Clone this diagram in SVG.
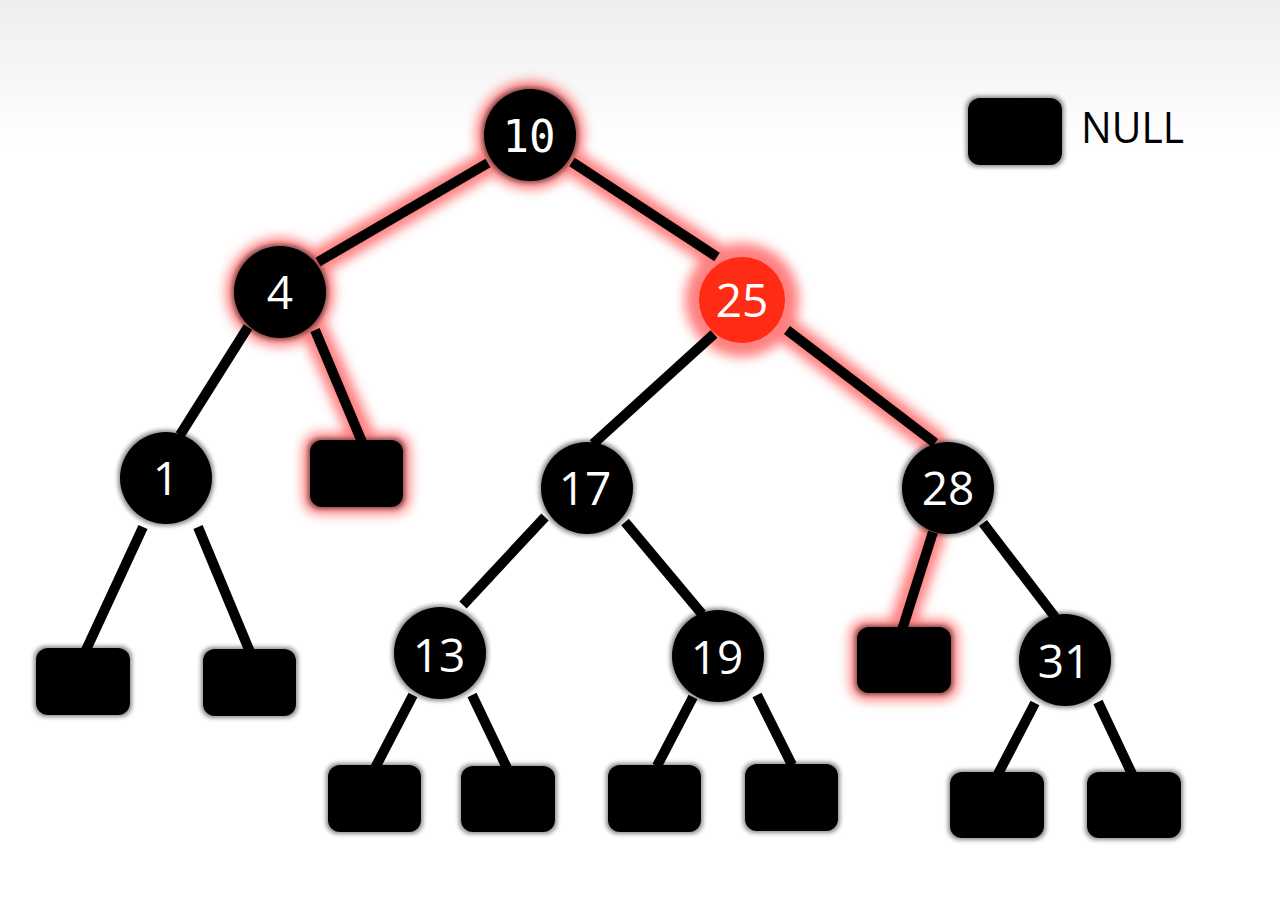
<svg xmlns="http://www.w3.org/2000/svg" width="1280" height="915" viewBox="0 0 1280 915">
  <defs>
    <linearGradient id="bg" x1="0" y1="0" x2="0" y2="1">
      <stop offset="0" stop-color="#eeeeee"/>
      <stop offset="0.16" stop-color="#ffffff"/>
      <stop offset="1" stop-color="#ffffff"/>
    </linearGradient>
    <filter id="glowblur" x="-50%" y="-50%" width="200%" height="200%">
      <feGaussianBlur stdDeviation="6"/>
    </filter>
    <filter id="soft" x="-20%" y="-20%" width="140%" height="140%">
      <feMorphology in="SourceAlpha" operator="dilate" radius="2" result="d"/>
      <feGaussianBlur in="d" stdDeviation="2" result="b"/>
      <feFlood flood-color="#000" flood-opacity="0.45"/>
      <feComposite in2="b" operator="in" result="s"/>
      <feMerge><feMergeNode in="s"/><feMergeNode in="SourceGraphic"/></feMerge>
    </filter>
    <style>
      .edge{stroke:#000;stroke-width:10;stroke-linecap:butt;fill:none}
      .glowline{stroke:#ff4a4a;stroke-width:26;stroke-linecap:round;fill:none}
      .glowfill{fill:#ff4a4a}
      .node{fill:#000;filter:url(#soft)}
      .red{fill:#ff2b14}
      .null{fill:#000;filter:url(#soft)}
      .lbl{fill:#fff;font-family:"Open Sans","DejaVu Sans",sans-serif;font-size:46px;text-anchor:middle}
      .mono{font-family:"DejaVu Sans Mono","Liberation Mono",monospace;font-size:44px}
    </style>
  </defs>

  <rect x="0" y="0" width="1280" height="915" fill="url(#bg)"/>

  <g id="glow" filter="url(#glowblur)" opacity="0.7">
    <line class="glowline" x1="488" y1="163" x2="318" y2="262"/>
    <line class="glowline" x1="572" y1="162" x2="717" y2="257"/>
    <line class="glowline" x1="315" y1="330" x2="362" y2="437"/>
    <line class="glowline" x1="787" y1="330" x2="935" y2="443"/>
    <line class="glowline" x1="933" y1="532" x2="902" y2="625"/>
    <circle class="glowfill" cx="530" cy="135" r="54"/>
    <circle class="glowfill" cx="280" cy="292" r="54"/>
    <circle class="glowfill" cx="742" cy="300" r="57"/>
    <rect class="glowfill" x="303" y="433" width="107" height="81" rx="16"/>
    <rect class="glowfill" x="850" y="620" width="108" height="80" rx="16"/>
  </g>

  <g id="connectors">
    <line class="edge" x1="488" y1="163" x2="318" y2="262"/>
    <line class="edge" x1="572" y1="162" x2="717" y2="257"/>
    <line class="edge" x1="248" y1="327" x2="180" y2="435"/>
    <line class="edge" x1="315" y1="330" x2="362" y2="442"/>
    <line class="edge" x1="143" y1="527" x2="86" y2="650"/>
    <line class="edge" x1="198" y1="527" x2="250" y2="652"/>
    <line class="edge" x1="714" y1="334" x2="593" y2="444"/>
    <line class="edge" x1="787" y1="330" x2="935" y2="443"/>
    <line class="edge" x1="545" y1="517" x2="463" y2="605"/>
    <line class="edge" x1="625" y1="522" x2="702" y2="614"/>
    <line class="edge" x1="933" y1="532" x2="902" y2="630"/>
    <line class="edge" x1="983" y1="523" x2="1055" y2="617"/>
    <line class="edge" x1="413" y1="695" x2="375" y2="768"/>
    <line class="edge" x1="472" y1="695" x2="507" y2="768"/>
    <line class="edge" x1="693" y1="697" x2="657" y2="766"/>
    <line class="edge" x1="757" y1="695" x2="792" y2="765"/>
    <line class="edge" x1="1035" y1="703" x2="998" y2="774"/>
    <line class="edge" x1="1098" y1="702" x2="1132" y2="774"/>
  </g>

  <g id="n10"><circle class="node" cx="530" cy="135" r="46"/><text class="lbl mono" x="529" y="152">10</text></g>
  <g id="n4"><circle class="node" cx="280" cy="292" r="46"/><text class="lbl" x="280" y="309">4</text></g>
  <g id="n25"><circle class="red" cx="742" cy="300" r="43"/><text class="lbl" x="742" y="317">25</text></g>
  <g id="n1"><circle class="node" cx="166" cy="478" r="46"/><text class="lbl" x="166" y="495">1</text></g>
  <g id="n17"><circle class="node" cx="587" cy="488" r="46"/><text class="lbl" x="585" y="505">17</text></g>
  <g id="n28"><circle class="node" cx="948" cy="488" r="46"/><text class="lbl" x="948" y="505">28</text></g>
  <g id="n13"><circle class="node" cx="440" cy="653" r="46"/><text class="lbl" x="439" y="672">13</text></g>
  <g id="n19"><circle class="node" cx="718" cy="656" r="46"/><text class="lbl" x="717" y="674">19</text></g>
  <g id="n31"><circle class="node" cx="1065" cy="660" r="46"/><text class="lbl" x="1064" y="678">31</text></g>

  <g id="null4"><rect class="null" x="310" y="440" width="93" height="67" rx="12"/></g>
  <g id="null28"><rect class="null" x="857" y="627" width="94" height="66" rx="12"/></g>
  <g id="null1a"><rect class="null" x="36" y="648" width="94" height="67" rx="12"/></g>
  <g id="null1b"><rect class="null" x="203" y="649" width="93" height="67" rx="12"/></g>
  <g id="null13a"><rect class="null" x="328" y="765" width="93" height="67" rx="12"/></g>
  <g id="null13b"><rect class="null" x="461" y="766" width="94" height="66" rx="12"/></g>
  <g id="null19a"><rect class="null" x="608" y="765" width="93" height="67" rx="12"/></g>
  <g id="null19b"><rect class="null" x="745" y="764" width="93" height="67" rx="12"/></g>
  <g id="null31a"><rect class="null" x="950" y="772" width="94" height="66" rx="12"/></g>
  <g id="null31b"><rect class="null" x="1087" y="772" width="94" height="66" rx="12"/></g>

  <g id="legend">
    <rect class="null" x="968" y="98" width="94" height="67" rx="12"/>
    <text x="1081" y="143" font-family="Open Sans, DejaVu Sans, sans-serif" font-size="44" fill="#000" textLength="103" lengthAdjust="spacingAndGlyphs">NULL</text>
  </g>
</svg>
